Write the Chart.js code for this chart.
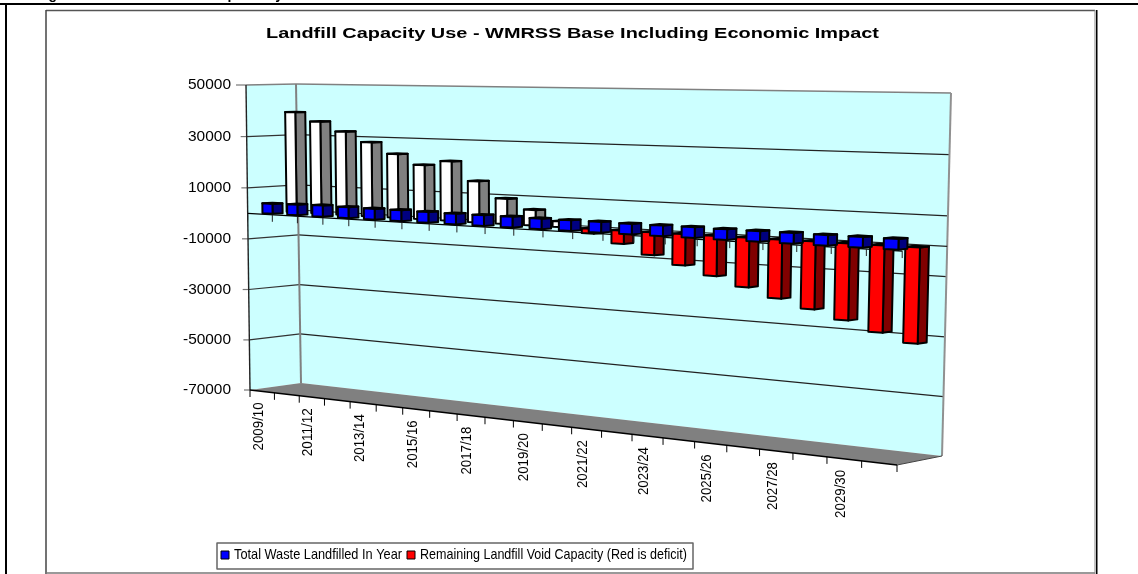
<!DOCTYPE html>
<html lang="en">
<head>
<meta charset="UTF-8">
<title>Landfill Capacity Use</title>
<script src="https://cdn.jsdelivr.net/npm/chart.js"></script>
<style>
  html, body { margin: 0; padding: 0; background: #fff; overflow: hidden; }
  canvas { position: absolute; left: 0; top: 0; }
</style>
</head>
<body>
<canvas id="chart" width="1138" height="574"></canvas>
<script>
const categories = ['2009/10','2010/11','2011/12','2012/13','2013/14','2014/15','2015/16','2016/17','2017/18','2018/19','2019/20',
  '2020/21','2021/22','2022/23','2023/24','2024/25','2025/26','2026/27','2027/28','2028/29','2029/30','2030/31'];
const wasteLandfilled = [3900,4100,4300,4200,4100,4100,4000,3900,3900,3900,3800,3800,3800,3700,3700,3700,3600,3600,3600,3500,3500,3500];
const voidCapacity = [39200,35800,32200,28400,24300,20500,22300,15300,9300,5700,2100,-1700,-4700,-8100,-11000,-14000,-17100,-20200,-23000,-25900,-29100,-31800];
const titleText = 'Landfill Capacity Use - WMRSS Base Including Economic Impact';
const seriesNames = ['Total Waste Landfilled In Year', 'Remaining Landfill Void Capacity (Red is deficit)'];
const pageHeading = 'Figure 8: Landfill Capacity Use';

const FONT = '"Liberation Sans", Arial, sans-serif';

// corners of the 3D box in page pixels: bottom left, bottom right, top right, top left
const frontQuad = [[250,390],[897,465],[906,95],[246,85]];
const backQuad = [[301,383],[942,456],[951,93],[296,84]];

function squareToQuad(q) {
  const [x0,y0] = q[0], [x1,y1] = q[1], [x2,y2] = q[2], [x3,y3] = q[3];
  const dx1 = x1-x2, dx2 = x3-x2, sx = x0-x1+x2-x3;
  const dy1 = y1-y2, dy2 = y3-y2, sy = y0-y1+y2-y3;
  const den = dx1*dy2-dx2*dy1;
  const g = (sx*dy2-dx2*sy)/den, h = (dx1*sy-sx*dy1)/den;
  const a = x1-x0+g*x1, b = x3-x0+h*x3, d = y1-y0+g*y1, e = y3-y0+h*y3;
  return (u,v) => {
    const z = g*u+h*v+1;
    return [(a*u+b*v+x0)/z, (d*u+e*v+y0)/z];
  };
}
const frontMap = squareToQuad(frontQuad);
const backMap = squareToQuad(backQuad);

// u along categories, v up the value axis, w into the picture
function project(u, v, w) {
  const f = frontMap(u,v), b = backMap(u,v);
  return [f[0]+(b[0]-f[0])*w, f[1]+(b[1]-f[1])*w];
}

function poly(ctx, pts, fill, stroke, lw) {
  ctx.beginPath();
  pts.forEach((p,i) => i ? ctx.lineTo(p[0],p[1]) : ctx.moveTo(p[0],p[1]));
  ctx.closePath();
  if (fill) { ctx.fillStyle = fill; ctx.fill(); }
  if (stroke) { ctx.strokeStyle = stroke; ctx.lineWidth = lw || 1; ctx.lineJoin = 'round'; ctx.stroke(); }
}
function line(ctx, a, b, color, lw) {
  ctx.beginPath();
  ctx.moveTo(a[0],a[1]);
  ctx.lineTo(b[0],b[1]);
  ctx.strokeStyle = color;
  ctx.lineWidth = lw || 1;
  ctx.stroke();
}
// text squeezed or stretched to the width measured on the reference
function fitText(ctx, str, left, midY, width, font, color) {
  ctx.save();
  ctx.font = font;
  ctx.fillStyle = color || '#000';
  ctx.textAlign = 'left';
  ctx.textBaseline = 'middle';
  const w = ctx.measureText(str).width;
  ctx.translate(left, midY);
  ctx.scale(width/w, 1);
  ctx.fillText(str, 0, 0);
  ctx.restore();
}

const depths = [[0.15,0.35],[0.63,0.83]];

function drawBox(ctx, el, area, depth, cols) {
  const left = (el.x-el.width/2-area.left)/area.width;
  const right = (el.x+el.width/2-area.left)/area.width;
  const norm = p => (area.bottom-p)/area.height;
  const v0 = norm(el.base), v1 = norm(el.y);
  const hi = Math.max(v0,v1), lo = Math.min(v0,v1);
  const [w0,w1] = depth;
  const stroke = '#000';
  poly(ctx, [project(right,lo,w0),project(right,lo,w1),project(right,hi,w1),project(right,hi,w0)], cols.side, stroke, 2);
  poly(ctx, [project(left,hi,w0),project(right,hi,w0),project(right,hi,w1),project(left,hi,w1)], cols.side, stroke, 2);
  poly(ctx, [project(left,lo,w0),project(right,lo,w0),project(right,hi,w0),project(left,hi,w0)], cols.front, stroke, 2);
}

const scenePlugin = {
  id: 'scene',
  beforeDatasetsDraw(chart) {
    const ctx = chart.ctx, area = chart.chartArea, y = chart.scales.y;
    const count = categories.length;
    const norm = val => (area.bottom-y.getPixelForValue(val))/area.height;
    const zero = norm(0);

    ctx.save();
    ctx.fillStyle = '#fff';
    ctx.fillRect(0,0,chart.width,chart.height);

    // page rule and the heading cut off by the crop
    ctx.font = 'bold 14px '+FONT;
    ctx.fillStyle = '#000';
    ctx.textBaseline = 'alphabetic';
    if ('letterSpacing' in ctx) ctx.letterSpacing = '3px';
    ctx.fillText(pageHeading, 30, -1);
    if ('letterSpacing' in ctx) ctx.letterSpacing = '0px';
    ctx.fillStyle = '#000';
    ctx.fillRect(0,3,1138,2);
    ctx.fillRect(5,3,2,571);

    // chart frame
    line(ctx,[46,10.5],[1095,10.5],'#555',1.5);
    line(ctx,[46,10],[46,574],'#444',1.5);
    line(ctx,[46,573],[1095,573],'#777',1.5);
    line(ctx,[1095,10],[1095,574],'#888',1);
    ctx.fillStyle = '#000';
    ctx.fillRect(1096,10,1.5,564);

    // title
    fitText(ctx, titleText, 266, 34, 613, 'bold 15px '+FONT);

    // walls and floor
    poly(ctx,[project(0,0,1),project(1,0,1),project(1,1,1),project(0,1,1)],'#ccffff');
    poly(ctx,[project(0,0,0),project(0,0,1),project(0,1,1),project(0,1,0)],'#ccffff');
    poly(ctx,[project(0,0,0),project(1,0,0),project(1,0,1),project(0,0,1)],'#808080');

    // gridlines from the value ticks
    y.ticks.forEach(t => {
      const v = norm(t.value);
      const a = project(0,v,0), b = project(0,v,1), c = project(1,v,1);
      if (t.value > y.min && t.value < y.max) {
        line(ctx,a,b,'#333',1.2);
        line(ctx,b,c,'#222',1.2);
      }
      line(ctx,[a[0]-(t.value===y.max?10:6),a[1]],a,'#777',1.2);
      fitText(ctx, String(t.value), 231-(t.value<0?48:43), a[1], t.value<0?48:43, '14.5px '+FONT);
    });
    // wall edges
    line(ctx,project(0,1,0),project(0,1,1),'#808080',1.6);
    line(ctx,project(0,1,1),project(1,1,1),'#808080',1.6);
    line(ctx,project(1,1,1),project(1,0,1),'#909090',2);
    line(ctx,project(0,1,1),project(0,0,1),'#808080',2);
    line(ctx,project(0,1,0),project(0,0,0),'#222',1.4);
    line(ctx,project(0,0,0),project(1,0,0),'#000',1.4);
    line(ctx,project(1,0,0),project(1,0,1),'#444',1);

    // line at zero on the back wall
    line(ctx,project(0,zero,1),project(1,zero,1),'#222',1.2);
    line(ctx,project(0,zero,0),project(1,zero,0),'#000',1.2);

    // category ticks and labels under the floor
    for (let i = 0; i <= count; i++) {
      const p = project(i/count,0,0);
      line(ctx,p,[p[0],p[1]+7],'#000',1);
    }
    categories.forEach((name,i) => {
      if (i % 2) return;
      const p = project((i+0.5)/count,0,0);
      ctx.save();
      ctx.translate(p[0]-3.5,p[1]+11);
      ctx.rotate(-Math.PI/2);
      fitText(ctx, name, -48, 0, 48, '14.5px '+FONT);
      ctx.restore();
    });

    // void capacity: white above zero, red below, always behind the waste bars
    chart.getDatasetMeta(1).data.forEach((el,i) => {
      const cols = voidCapacity[i] >= 0 ? {front:'#ffffff',side:'#808080'} : {front:'#ff0000',side:'#800000'};
      drawBox(ctx, el, area, depths[1], cols);
    });
    // ticks on the zero line
    for (let i = 0; i <= count; i++) {
      const p = project(i/count,zero,0);
      line(ctx,p,[p[0],p[1]+7],'#222',1);
    }
    chart.getDatasetMeta(0).data.forEach(el => {
      drawBox(ctx, el, area, depths[0], {front:'#0000ff',side:'#000080'});
    });

    // legend
    ctx.strokeStyle = '#666';
    ctx.lineWidth = 1.5;
    ctx.strokeRect(217,543,476,26);
    poly(ctx,[[221,551],[229,551],[229,559],[221,559]],'#0000ff','#000',1);
    poly(ctx,[[407,551],[415,551],[415,559],[407,559]],'#ff0000','#000',1);
    fitText(ctx, seriesNames[0], 234, 554.5, 168, '15px '+FONT);
    fitText(ctx, seriesNames[1], 420, 554.5, 267, '15px '+FONT);
    ctx.restore();
    return false;
  }
};

new Chart(document.getElementById('chart'), {
  type: 'bar',
  data: {
    labels: categories,
    datasets: [
      { label: seriesNames[0], data: wasteLandfilled, backgroundColor: '#0000ff' },
      { label: seriesNames[1], data: voidCapacity, backgroundColor: '#ff0000' }
    ]
  },
  options: {
    responsive: false,
    animation: false,
    events: [],
    layout: { padding: 20 },
    datasets: { bar: { grouped: false, categoryPercentage: 1, barPercentage: 0.41 } },
    plugins: { legend: { display: false }, title: { display: false }, tooltip: { enabled: false } },
    scales: {
      x: { display: false },
      y: { display: false, min: -70000, max: 50000, ticks: { stepSize: 20000 } }
    }
  },
  plugins: [scenePlugin]
});
</script>
</body>
</html>
